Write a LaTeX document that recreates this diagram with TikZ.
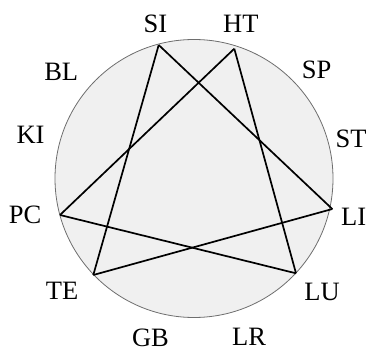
\documentclass[tikz,border=0pt]{standalone}
\usepackage{fontspec}
\setmainfont{Liberation Serif}
\begin{document}
\begin{tikzpicture}[x=1pt,y=-1pt,
  lbl/.style={font=\fontsize{26.5}{26.5}\selectfont, inner sep=0pt, anchor=center},
  edge/.style={draw=black, line width=1.7pt, line join=round}]
\useasboundingbox (0,0) rectangle (367,352);
\definecolor{circfill}{RGB}{240,240,240}
\definecolor{circline}{RGB}{110,110,110}
\node[draw=circline, fill=circfill, circle, line width=0.8pt, minimum size=278pt, inner sep=0pt] (c) at (194,178.5) {};
% vertices
\coordinate (SI) at (158.7,45);
\coordinate (HT) at (234.3,48.7);
\coordinate (PC) at (60,215);
\coordinate (LI) at (332.3,209);
\coordinate (TE) at (93.3,275);
\coordinate (LU) at (296,273.3);
% edges
\draw[edge] (SI) -- (TE);
\draw[edge] (SI) -- (LI);
\draw[edge] (HT) -- (PC);
\draw[edge] (HT) -- (LU);
\draw[edge] (PC) -- (LU);
\draw[edge] (TE) -- (LI);
% labels
\node[lbl] (lSI) at (155.3,24.2) {SI};
\node[lbl] (lHT) at (240.8,24.2) {HT};
\node[lbl] (lBL) at (61.2,71.7) {BL};
\node[lbl] (lSP) at (316.7,70) {SP};
\node[lbl] (lKI) at (30.5,135) {KI};
\node[lbl] (lST) at (351,139) {ST};
\node[lbl] (lPC) at (25,215.3) {PC};
\node[lbl] (lLI) at (353.7,216.7) {LI};
\node[lbl] (lTE) at (62,291) {TE};
\node[lbl] (lLU) at (322,291.7) {LU};
\node[lbl] (lGB) at (150.5,338.3) {GB};
\node[lbl] (lLR) at (249,337) {LR};
\end{tikzpicture}
\end{document}
